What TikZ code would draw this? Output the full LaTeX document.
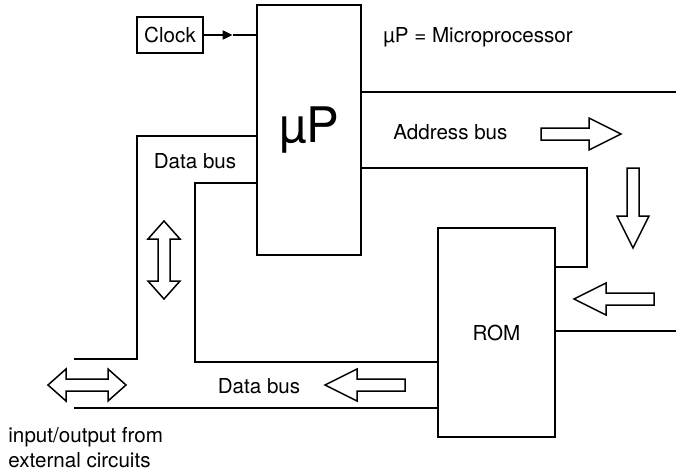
\documentclass[tikz,border=0pt]{standalone}
\usepackage{fontspec}
\setmainfont{TeX Gyre Heros}
\usetikzlibrary{arrows.meta,positioning}

\begin{document}
\begin{tikzpicture}[
  x=0.5pt,y=-0.5pt,
  >={Triangle[length=5pt,width=4.5pt]},
  block/.style={draw,line width=1pt,inner sep=0pt,font=\fontsize{10.3}{12}\selectfont},
  bus/.style={line width=1pt},
  lbl/.style={font=\fontsize{10.3}{12}\selectfont,inner sep=0pt},
  hollow/.style={draw,line width=0.75pt,fill=white,line join=miter},
  pics/onearrow/.style={code={
    \draw[hollow] (0,-6) -- (48,-6) -- (48,-16) -- (80,0) -- (48,16) -- (48,6) -- (0,6) -- cycle;}},
  pics/twoarrow/.style={code={
    \draw[hollow] (0,0) -- (18,-16) -- (18,-6) -- (60,-6) -- (60,-16) -- (78,0)
      -- (60,16) -- (60,6) -- (18,6) -- (18,16) -- cycle;}}
]
  \useasboundingbox (0,0) rectangle (676,471);

  \node[block,minimum width=33pt,minimum height=18pt] (clock) at (170,35) {Clock};
  \node[block,minimum width=52pt,minimum height=125pt,
    font=\fontsize{24.5}{28}\selectfont] (up) at (309,130) {µP};
  \node[block,minimum width=58.5pt,minimum height=104.5pt] (rom) at (496.5,332.5) {ROM};

  % clock input
  \path (clock.east) -- coordinate[pos=0.55] (tick) (clock.east -| up.west);
  \draw[bus,->] (clock.east) -- (tick);
  \draw[bus] (tick) -- (clock.east -| up.west);

  % address bus
  \coordinate (addrtop) at (676,92);
  \coordinate (abend) at (587,168);
  \coordinate (abin) at (587,267);
  \coordinate (romout) at (676,331);
  \draw[bus] (up.east |- addrtop) -- (addrtop);
  \draw[bus] (up.east |- abend) -- (abend) -- (abin) -- (rom.east |- abin);
  \draw[bus] (rom.east |- romout) -- (romout);

  % data bus
  \coordinate (dbtop) at (137,136);
  \coordinate (dbext) at (74,359);
  \coordinate (dbin) at (195,183);
  \coordinate (dbrom) at (195,362);
  \coordinate (ioend) at (74,408);
  \draw[bus] (up.west |- dbtop) -- (dbtop) |- (dbext);
  \draw[bus] (up.west |- dbin) -- (dbin) -- (dbrom) -- (rom.west |- dbrom);
  \draw[bus] (ioend) -- (rom.west |- ioend);

  % hollow direction arrows
  \pic at (541,134) {onearrow};
  \pic[rotate=-90] at (633,168) {onearrow};
  \pic[rotate=180] at (654,299) {onearrow};
  \pic[rotate=180] at (405,385) {onearrow};
  \pic[rotate=-90] at (164,221) {twoarrow};
  \pic at (48,385) {twoarrow};

  \node[lbl,anchor=base west] (legend) at (383,42) {µP = Microprocessor};
  \node[lbl,anchor=base west] (addrlbl) at (393,140) {Address bus};
  \node[lbl,anchor=base] (dbup) at (195,168) {Data bus};
  \node[lbl,anchor=base] (dblow) at (259,393) {Data bus};
  \node[lbl,anchor=base west] (io1) at (8,442) {input/output from};
  \node[lbl,anchor=base west] (io2) at (8,467) {external circuits};
\end{tikzpicture}
\end{document}
